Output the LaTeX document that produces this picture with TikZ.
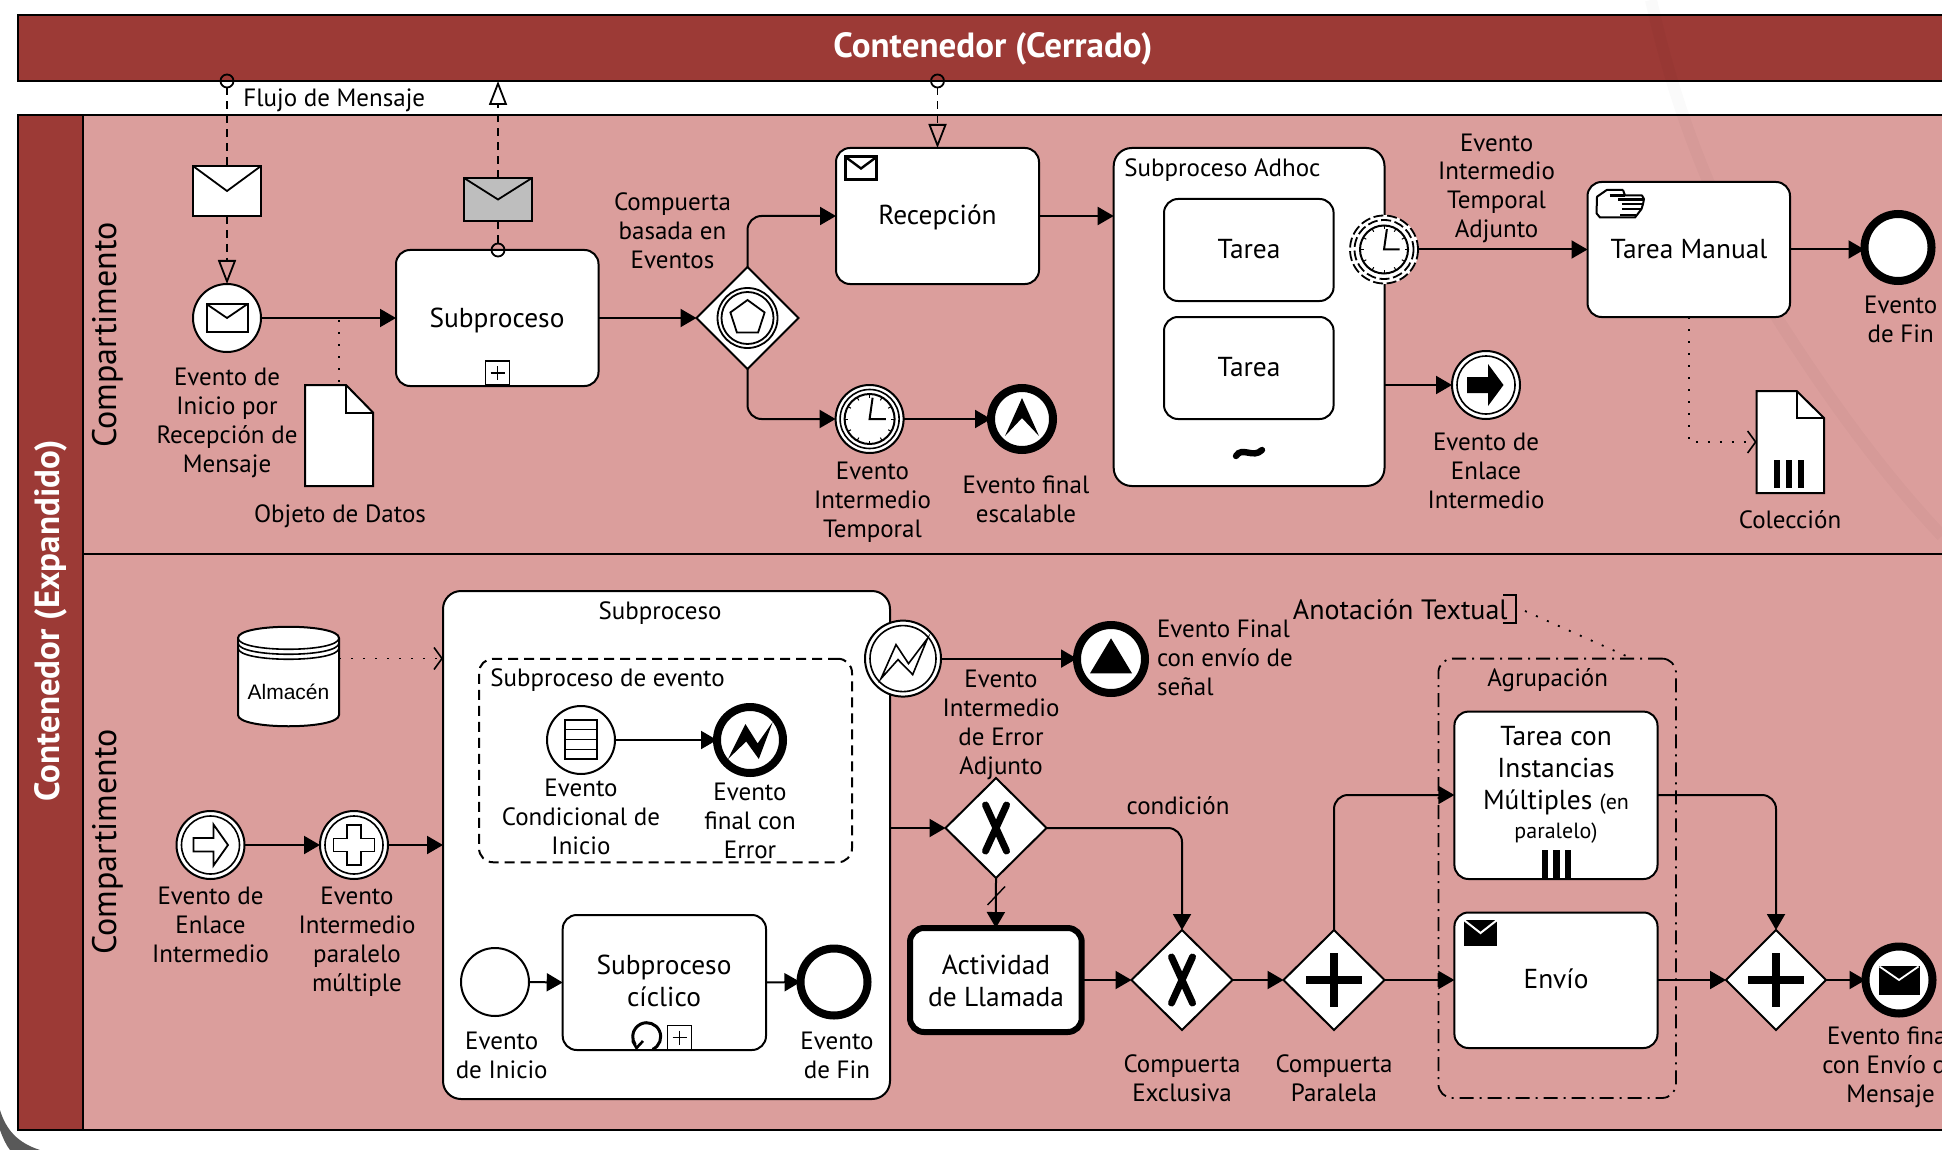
\documentclass[tikz,border=0pt]{standalone}
\usepackage{fontspec}
\setmainfont{PT Sans}
\newfontfamily\arialf{Liberation Sans}
\usetikzlibrary{arrows.meta,shapes.geometric,calc}
\definecolor{hdr}{RGB}{156,58,54}
\definecolor{lane}{RGB}{219,158,156}
\definecolor{graymsg}{RGB}{190,190,190}
\tikzset{
  taskbox/.style={rectangle,rounded corners=7pt,draw=black,line width=1pt,fill=white,inner sep=0pt,outer sep=0pt},
  tasktxt/.style={inner sep=0pt,align=center,yshift=-1.2pt,font=\fontsize{13.7}{16}\selectfont},
  evt/.style={circle,draw=black,line width=1pt,fill=white,inner sep=0pt,outer sep=0pt},
  endevt/.style={circle,draw=black,line width=4pt,fill=white,inner sep=0pt,outer sep=0pt},
  gate/.style={diamond,aspect=1,draw=black,line width=1pt,fill=white,inner sep=0pt,outer sep=0pt},
  seqf/.style={line width=1pt,draw=black,-{Triangle[length=8pt,width=9pt]}},
  msgf/.style={line width=.9pt,draw=black,dash pattern=on 4pt off 3pt},
  msgtip/.style={msgf,-{Triangle[open,length=12pt,width=9pt,line width=.9pt]}},
  dott/.style={line width=.9pt,draw=black,dash pattern=on 1pt off 5pt},
  dotttip/.style={dott,-{Straight Barb[length=4pt,width=11pt,line width=.8pt]}},
  lbl/.style={align=center,inner sep=0pt,yshift=-1.2pt,font=\fontsize{12.5}{14.5}\selectfont},
  smallc/.style={circle,draw=black,line width=.9pt,minimum size=6.5pt,inner sep=0pt,outer sep=0pt},
  msgbox/.style={rectangle,draw=black,line width=1pt,fill=white,inner sep=0pt,outer sep=0pt},
  xmark/.style={line width=3.5pt,line cap=round},
  pmark/.style={line width=4.3pt},
  ticks/.style={line width=.5pt},
}
\newcommand{\bx}[6][]{\node[taskbox,#1,minimum width={(#4-#2)*0.5pt},minimum height={(#5-#3)*0.5pt}] (#6) at ({(#2+#4)/2},{(#3+#5)/2}) {};}
\newcommand{\envl}[7][]{\node[msgbox,#1,minimum width={#5*0.5pt},minimum height={#6*0.5pt}] (#2) at (#3,#4) {};\draw[#7,line width=.9pt] (#2.north west)--(#2.center)--(#2.north east);}
\newcommand{\clockm}[3]{\begin{scope}[shift={(#1,#2)}]\draw[line width=1pt] (0,0) circle[radius=#3];
\foreach \a in {0,30,...,330}{\draw[ticks] (\a:#3) -- (\a:{#3-3.5});}
\draw[line width=1pt] ({#3*.12},{-#3*.85}) -- (0,0) -- ({#3*.65},0);\end{scope}}
\newcommand{\barsm}[4]{\fill[black] (#1,#3) rectangle ({#1+6.2},#4);\fill[black] ({#1+#2},#3) rectangle ({#1+#2+6.2},#4);\fill[black] ({#1+2*#2},#3) rectangle ({#1+2*#2+6.2},#4);}
\newcommand{\plusbox}[3]{\node[rectangle,draw=black,line width=.7pt,fill=white,inner sep=0pt,outer sep=0pt,minimum width=12pt,minimum height=12pt] (#1) at (#2,#3) {};\draw[line width=.6pt] ($(#2-7,#3)$)--($(#2+7,#3)$) ($(#2,#3-7)$)--($(#2,#3+7)$);}
\begin{document}
\begin{tikzpicture}[x=0.5pt,y=-0.5pt]
\useasboundingbox (0,0) rectangle (1942,1150);
\fill[white] (0,0) rectangle (1942,1150);
% lanes and headers
\node[draw=black,line width=1pt,fill=hdr,inner sep=0pt,outer sep=0pt,minimum width={(1960-18)*.5pt},minimum height={66*.5pt}] (pool1) at ({(1960+18)/2},48) {};
\node[font=\fontsize{17.5}{20}\selectfont\bfseries,text=white,inner sep=0pt] (pool1t) at (993,49) {Contenedor (Cerrado)};
\node[draw=black,line width=1pt,fill=lane,inner sep=0pt,outer sep=0pt,minimum width={(1960-83)*.5pt},minimum height={439*.5pt}] (lane1) at ({(1960+83)/2},{(115+554)/2}) {};
\node[draw=black,line width=1pt,fill=lane,inner sep=0pt,outer sep=0pt,minimum width={(1960-83)*.5pt},minimum height={576*.5pt}] (lane2) at ({(1960+83)/2},{(554+1130)/2}) {};
\node[draw=black,line width=1pt,fill=hdr,inner sep=0pt,outer sep=0pt,minimum width={65*.5pt},minimum height={1015*.5pt}] (pool2) at ({(18+83)/2},{(115+1130)/2}) {};
\node[rotate=90,font=\fontsize{17.5}{20}\selectfont\bfseries,text=white,inner sep=0pt] (pool2t) at (51,621) {Contenedor (Expandido)};
\node[rotate=90,font=\fontsize{17}{20}\selectfont,inner sep=0pt] (lane1t) at (108,335) {Compartimento};
\node[rotate=90,font=\fontsize{17}{20}\selectfont,inner sep=0pt] (lane2t) at (108,842) {Compartimento};
% faint marks of the page
\fill[black!65] (0,1110) .. controls (6,1130) and (18,1143) .. (40,1150) -- (10,1150) .. controls (6,1145) and (3,1138) .. (0,1130) -- cycle;
\draw[black,opacity=.02,line width=6pt] (1651,0) .. controls (1665,60) and (1690,170) .. (1779,321) .. controls (1830,400) and (1880,470) .. (1942,536);

% ---- top lane
\node[evt,minimum size=34pt] (ev1) at (227,318) {};
\envl{ev1i}{227}{318}{41}{28}{black}
\node[smallc] (c1) at (227,81) {};
\envl{m1}{227}{191}{68}{50}{black}
\draw[msgf] (c1.south) -- (m1.north);
\draw[msgtip] (m1.south) -- (ev1.north);
\node[lbl] (ev1l) at (227,420) {Evento de\\Inicio por\\Recepción de\\Mensaje};
\node[lbl,anchor=west] (fl) at (243,97.5) {Flujo de Mensaje};
% data object
\draw[line width=1pt,fill=white] (305,385) -- (346,385) -- (373,412.5) -- (373,486) -- (305,486) -- cycle;
\draw[line width=1pt] (346,385) -- (346,412.5) -- (373,412.5);
\coordinate (doc1) at (339,385);
\coordinate (fl1) at (339,320);
\draw[dott] (fl1) -- (doc1);
\node[lbl] (doc1l) at (340,514) {Objeto de Datos};
% subproceso
\bx{396}{250}{598.5}{386}{sub1}
\node[tasktxt] (sub1t) at (497,318) {Subproceso};
\plusbox{sub1p}{497.5}{373}
\node[smallc] (c2) at (498,250) {};
\envl[fill=graymsg]{m2}{498}{199.5}{68}{43}{black}
\coordinate (t2) at (498,81);
\draw[msgf] (c2.north) -- (m2.south);
\draw[msgtip] (m2.north) -- (t2);
\draw[seqf] (ev1.east) -- (sub1.west);
% gateway
\node[gate,minimum width=51pt,minimum height=51pt] (gw1) at (747.5,318) {};
\begin{scope}[shift={(747.5,318)}]
\draw[line width=.9pt] (0,0) circle[radius=30] (0,0) circle[radius=26];
\draw[line width=.9pt] (-90:18)--(-18:18)--(54:18)--(126:18)--(198:18)--cycle;
\end{scope}
\node[lbl] (gw1l) at (672.5,228.5) {Compuerta\\basada en\\Eventos};
\draw[seqf] (sub1.east) -- (gw1.west);
% recepcion
\bx{836}{148}{1039}{284}{rec}
\node[tasktxt] (rect) at (937.5,215) {Recepción};
\node[msgbox,line width=1.5pt,minimum width=15.5pt,minimum height=11.5pt] (reci) at (861,168.5) {};
\draw[line width=1.2pt] (reci.north west)--(reci.center)--(reci.north east);
\node[smallc] (c3) at (937.5,81) {};
\draw[msgtip] (c3.south) -- (rec.north);
\draw[seqf,rounded corners=7pt] (gw1.north) |- (rec.west);
% timer
\node[evt,minimum size=34pt] (tim1) at (869.6,419) {};
\draw[line width=.8pt] (869.6,419) circle[radius=29.5];
\clockm{869.6}{419}{25}
\draw[seqf,rounded corners=7pt] (gw1.south) |- (tim1.west);
\node[lbl] (tim1l) at (872.5,500) {Evento\\Intermedio\\Temporal};
% escalation end
\node[endevt,minimum size=31pt] (esc) at (1022,419) {};
\fill (1022,398) -- (1039,436) -- (1022,418) -- (1005,436) -- cycle;
\draw[seqf] (tim1.east) -- (esc.west);
\node[lbl] (escl) at (1026,497) {Evento final\\escalable};
% adhoc
\bx[rounded corners=9pt]{1113.7}{148}{1384.5}{486}{adhoc}
\node[lbl,anchor=west] (adhoct) at (1124,168) {Subproceso Adhoc};
\bx{1164}{199}{1333.6}{301}{t1}
\bx{1164}{317}{1333.6}{419}{t2b}
\node[tasktxt] (t1t) at (1249,247) {Tarea};
\node[tasktxt] (t2t) at (1249,365) {Tarea};
\draw[line width=3.2pt,line cap=round] (1236,456) .. controls (1242,446) and (1253,459) .. (1262,450);
\draw[seqf] (rec.east) -- (rec.east -| adhoc.west);
% attached timer
\node[circle,fill=white,inner sep=0pt,outer sep=0pt,minimum size=34.5pt] (tim2) at (1384,249.5) {};
\begin{scope}[shift={(1384,249.5)}]
\draw[line width=.9pt,dash pattern=on 5pt off 1.8pt] (0,0) circle[radius=34];
\draw[line width=.9pt,dash pattern=on 5pt off 1.8pt] (0,0) circle[radius=29.5];
\end{scope}
\clockm{1384}{249.5}{24}
\node[lbl] (tim2l) at (1496.6,186) {Evento\\Intermedio\\Temporal\\Adjunto};
% manual task
\bx{1587.5}{182}{1790}{317}{man}
\node[tasktxt] (mant) at (1689,247) {Tarea Manual};
\draw[line width=1pt,line join=round] (1623,190) -- (1606.7,190) -- (1597,196.7) -- (1596.5,213.3) -- (1600,217.5) -- (1635,217.5) -- (1641.5,209) -- (1643,204) -- (1644,199) -- (1642,195.5) -- (1625,195.5) -- (1623,190);
\draw[line width=1.2pt] (1609.5,195.5) -- (1625,195.5) (1618,199.5) -- (1644,199.5) (1622,204.3) -- (1643,204.3) (1622,209.3) -- (1641.5,209.3) (1620,215) -- (1636,215);
\draw[seqf] (tim2.east) -- (man.west);
\node[endevt,minimum size=33.5pt] (end1) at (1898,247.5) {};
\draw[seqf] (man.east) -- (man.east -| end1.west);
\node[lbl] (end1l) at (1900.7,316.5) {Evento\\de Fin};
% link
\node[evt,minimum size=34pt] (lnk1) at (1486,385) {};
\draw[line width=.8pt] (1486,385) circle[radius=29];
\begin{scope}[shift={(1486,385)}]
\fill (-19,-8) -- (2,-8) -- (2,-21) -- (17.5,0) -- (2,21) -- (2,8) -- (-19,8) -- cycle;
\end{scope}
\draw[seqf] (lnk1.west -| adhoc.east) -- (lnk1.west);
\node[lbl] (lnk1l) at (1486,468) {Evento de\\Enlace\\Intermedio};
% collection
\draw[line width=1pt,fill=white] (1756.6,391) -- (1796.7,391) -- (1824,418) -- (1824,493) -- (1756.6,493) -- cycle;
\draw[line width=1pt] (1796.7,391) -- (1796.7,418) -- (1824,418);
\barsm{1773.8}{11.9}{460}{487.5}
\coordinate (col) at (1756.6,442);
\draw[dotttip] (man.south) |- (col);
\node[lbl] (coll) at (1790,517) {Colección};

% ---- bottom lane
\draw[line width=1pt,fill=white] (238,638) .. controls (238,623) and (339,623) .. (339,638) -- (339,715) .. controls (339,730) and (238,730) .. (238,715) -- cycle;
\draw[line width=.8pt] (238,638) .. controls (238,653) and (339,653) .. (339,638);
\draw[line width=.8pt] (238,643) .. controls (238,658) and (339,658) .. (339,643);
\draw[line width=.8pt] (238,648) .. controls (238,663) and (339,663) .. (339,648);
\node[font=\arialf\fontsize{10.5}{12}\selectfont,inner sep=0pt] (almt) at (288.5,692) {Almacén};
\coordinate (alm) at (339,658.5);
% large subprocess
\bx[rounded corners=9pt]{443}{591}{890}{1099}{big}
\node[lbl] (bigt) at (660,611) {Subproceso};
\draw[dotttip] (alm) -- (alm -| big.west);
% link and plus
\node[evt,minimum size=34pt] (lnk2) at (210.5,845) {};
\draw[line width=.8pt] (210.5,845) circle[radius=29];
\begin{scope}[shift={(210.5,845)}]
\draw[line width=.9pt,line join=miter] (-17,-7) -- (3,-7) -- (3,-20.5) -- (17.5,0) -- (3,20.5) -- (3,6.5) -- (-17,6.5) -- cycle;
\end{scope}
\node[evt,minimum size=34pt] (par) at (354,845) {};
\draw[line width=.8pt] (354,845) circle[radius=29];
\begin{scope}[shift={(354,845)}]
\draw[line width=.9pt] (-7,-20) -- (7,-20) -- (7,-6.5) -- (20.5,-6.5) -- (20.5,6.5) -- (7,6.5) -- (7,20) -- (-7,20) -- (-7,6.5) -- (-20.5,6.5) -- (-20.5,-6.5) -- (-7,-6.5) -- cycle;
\end{scope}
\draw[seqf] (lnk2.east) -- (par.west);
\draw[seqf] (par.east) -- (par.east -| big.west);
\node[lbl] (lnk2l) at (210.5,922.5) {Evento de\\Enlace\\Intermedio};
\node[lbl] (parl) at (357,939) {Evento\\Intermedio\\paralelo\\múltiple};
% event subprocess
\node[rectangle,rounded corners=7pt,draw=black,line width=1pt,dash pattern=on 5pt off 3pt,inner sep=0pt,outer sep=0pt,minimum width={373*.5pt},minimum height={203.5*.5pt}] (evs) at (665.5,760.5) {};
\node[lbl,anchor=west] (evst) at (490,678) {Subproceso de evento};
\node[evt,minimum size=34pt] (cond) at (581,740) {};
\draw[line width=1pt] (565,720) rectangle (597,759);
\draw[line width=.7pt] (565,729.5) -- (597,729.5) (565,739.5) -- (597,739.5) (565,749.5) -- (597,749.5);
\node[lbl] (condl) at (581,814.5) {Evento\\Condicional de\\Inicio};
\node[endevt,minimum size=33pt] (err) at (750,740) {};
\begin{scope}[shift={(750,740)}]
\fill (-22,19) -- (-4.6,-16) -- (7.6,3.4) -- (22.7,-18) -- (8.8,19) -- (-3.8,1.5) -- cycle;
\end{scope}
\draw[seqf] (cond.east) -- (err.west);
\node[lbl] (errl) at (750,818.5) {Evento\\final con\\Error};
% cyclic
\node[evt,minimum size=34pt] (st2) at (495,982) {};
\bx{562.7}{915}{766}{1050}{cyc}
\node[tasktxt] (cyct) at (664,978.5) {Subproceso\\cíclico};
\draw[line width=1.5pt] (646.7,1036.7) ++(65:14) arc[start angle=65,end angle=-215,radius=14];
\draw[line width=1.3pt] (632.5,1041) -- (636.5,1048) -- (643,1041);
\node[rectangle,draw=black,line width=.7pt,fill=white,inner sep=0pt,outer sep=0pt,minimum width=12pt,minimum height=12pt] (cycp) at (679.5,1037.5) {};
\draw[line width=.6pt] (672.5,1037.5) -- (686.5,1037.5) (679.5,1030.5) -- (679.5,1044.5);
\node[endevt,minimum size=33.5pt] (end2) at (834,982) {};
\draw[seqf] (st2.east) -- (cyc.west);
\draw[seqf] (cyc.east) -- (end2.west);
\node[lbl] (st2l) at (501.7,1053) {Evento\\de Inicio};
\node[lbl] (end2l) at (837,1052.5) {Evento\\de Fin};
% attached error
\node[evt,minimum size=38pt] (err2) at (903,658.6) {};
\draw[line width=.8pt] (903,658.6) circle[radius=33];
\begin{scope}[shift={(903,658.6)}]
\draw[line width=.8pt,line join=miter] (-22,20) -- (-7,-14) -- (5.5,5) -- (24.4,-20) -- (9.7,16) -- (-5,1) -- cycle;
\end{scope}
\node[endevt,minimum size=34pt] (sig) at (1111,659) {};
\fill (1111,638.3) -- (1132,673.3) -- (1090,673.3) -- cycle;
\draw[seqf] (err2.east) -- (err2.east -| sig.west);
\node[lbl,anchor=west,align=left] (sigl) at (1156.6,655.5) {Evento Final\\con envío de\\señal};
\node[lbl] (err2l) at (1001,722.5) {Evento\\Intermedio\\de Error\\Adjunto};
% gateways
\node[gate,minimum width=50.5pt,minimum height=50pt] (gx1) at (996,828) {};
\draw[xmark] (985.5,805) -- (1006.5,851) (1006.5,805) -- (985.5,851);
\draw[seqf] (gx1.west -| big.east) -- (gx1.west);
\bx[line width=3pt,rounded corners=7pt]{910}{928}{1081.7}{1032}{call}
\node[tasktxt] (callt) at (996,979) {Actividad\\de Llamada};
\draw[seqf] (gx1.south) -- (call.north);
\draw[line width=.7pt] (987.5,905) -- (1005,886.5);
\node[gate,minimum width=50.5pt,minimum height=50pt] (gx2) at (1182,980) {};
\draw[xmark] (1171.5,957) -- (1192.5,1003) (1192.5,957) -- (1171.5,1003);
\draw[seqf] (call.east) -- (call.east -| gx2.west);
\draw[seqf,rounded corners=7pt] (gx1.east) -| (gx2.north);
\node[lbl] (condt) at (1178,803.5) {condición};
\node[lbl] (gx2l) at (1182,1075.5) {Compuerta\\Exclusiva};
\node[gate,minimum width=50.5pt,minimum height=50pt] (gp1) at (1334,980) {};
\draw[pmark] (1306,980) -- (1362,980) (1334,953) -- (1334,1007);
\draw[seqf] (gx2.east) -- (gp1.west);
\node[lbl] (gp1l) at (1334,1075.5) {Compuerta\\Paralela};
% group
\node[rectangle,rounded corners=7pt,draw=black,line width=.9pt,dash pattern=on 7pt off 3pt on 1pt off 3pt,inner sep=0pt,outer sep=0pt,minimum width={237.6*.5pt},minimum height={439.4*.5pt}] (grp) at (1557.2,878.3) {};
\node[lbl] (grpt) at (1547.7,678) {Agrupación};
% tasks
\bx{1454.4}{711.6}{1657.5}{879}{multi}
\node[tasktxt] (multit) at (1556,782.5) {Tarea con\\Instancias\\Múltiples {\fontsize{11}{14}\selectfont(en}\\[-1.5pt]{\fontsize{11}{14}\selectfont paralelo)}};
\barsm{1541.6}{11.7}{850}{879}
\bx{1454.4}{912.5}{1657.5}{1048}{envio}
\node[tasktxt] (enviot) at (1556,976.5) {Envío};
\node[rectangle,fill=black,inner sep=0pt,outer sep=0pt,minimum width=16.6pt,minimum height=13pt] (envi) at (1480.5,933) {};
\draw[white,line width=1pt] (envi.north west) -- (envi.center) -- (envi.north east);
\coordinate (mulin) at (1454.4,795);
\draw[seqf,rounded corners=7pt] (gp1.north) |- (mulin);
\draw[seqf] (gp1.east) -- (gp1.east -| envio.west);
\node[gate,minimum width=50pt,minimum height=50pt] (gp2) at (1776,980) {};
\draw[pmark] (1748,980) -- (1804,980) (1776,953) -- (1776,1007);
\coordinate (mulout) at (1657.5,795);
\draw[seqf,rounded corners=7pt] (mulout) -| (gp2.north);
\draw[seqf] (gp2.west -| envio.east) -- (gp2.west);
\node[endevt,minimum size=33.5pt] (endm) at (1899,980) {};
\envl[draw=black,fill=black]{endmi}{1899}{980}{39}{27}{white}
\draw[seqf] (gp2.east) -- (endm.west);
\node[lbl] (endml) at (1890.5,1064.5) {Evento final\\con Envío de\\Mensaje};
% annotation
\node[inner sep=0pt,font=\fontsize{14}{16}\selectfont,anchor=east,yshift=-.5pt] (ann) at (1508,608.5) {Anotación Textual};
\draw[line width=.9pt] (1503,595) -- (1516,595) -- (1516,623) -- (1503,623);
\coordinate (annr) at (1525,611);
\coordinate (grpa) at (1632,658.6);
\draw[dott] (annr) -- (grpa);
\end{tikzpicture}
\end{document}
